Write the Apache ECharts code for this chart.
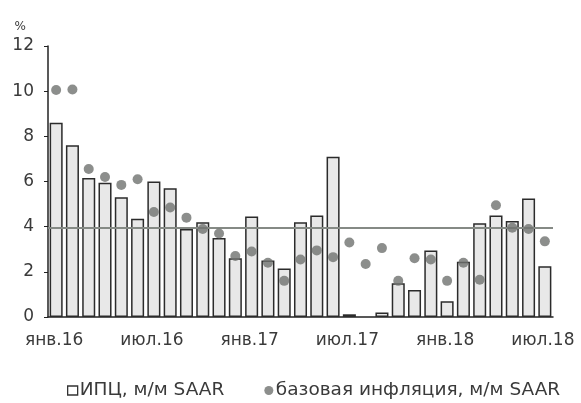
<!DOCTYPE html>
<html>
<head>
<meta charset="utf-8">
<script src="https://cdn.jsdelivr.net/npm/echarts@6/dist/echarts.min.js"></script>
<style>
  html, body { margin: 0; padding: 0; background: #fff; }
  #chart { width: 581px; height: 403px; }
</style>
</head>
<body>
<div id="chart"></div>
<script>
// months Jan 2016 .. Jul 2018
const months = [
  'янв.16','фев.16','мар.16','апр.16','май.16','июн.16','июл.16','авг.16','сен.16','окт.16','ноя.16','дек.16',
  'янв.17','фев.17','мар.17','апр.17','май.17','июн.17','июл.17','авг.17','сен.17','окт.17','ноя.17','дек.17',
  'янв.18','фев.18','мар.18','апр.18','май.18','июн.18','июл.18'
]
// ИПЦ, м/м SAAR
const cpi = [
  8.6, 7.6, 6.15, 5.95, 5.3, 4.35, 6.0, 5.7, 3.9, 4.2, 3.5, 2.6,
  4.45, 2.5, 2.15, 4.2, 4.5, 7.1, 0.12, -0.05, 0.2, 1.5, 1.2, 2.95,
  0.7, 2.45, 4.15, 4.5, 4.25, 5.25, 2.25
]
// базовая инфляция, м/м SAAR
const core = [
  10.05, 10.07, 6.55, 6.2, 5.85, 6.1, 4.65, 4.85, 4.4, 3.9, 3.7, 2.7,
  2.9, 2.4, 1.6, 2.55, 2.95, 2.65, 3.3, 2.35, 3.05, 1.6, 2.6, 2.55,
  1.6, 2.4, 1.65, 4.95, 3.95, 3.9, 3.35
]
const target = 3.95
const yTicks = { min: 0, max: 12, interval: 2 }

const textColor = '#3a3a3a'
const font = 'DejaVu Sans'

const chart = echarts.init(document.getElementById('chart'))
chart.setOption({
  animation: false,
  grid: { left: 48, right: 28, top: 46, bottom: 86 },
  legend: {
    top: 376,
    left: 62,
    itemGap: 40,
    textStyle: { fontFamily: font, fontSize: 18.5, color: textColor, padding: [0, 0, 0, -3] },
    data: [
      { name: 'ИПЦ, м/м SAAR', icon: 'rect', itemStyle: { color: '#fff', borderColor: '#333', borderWidth: 1.3 } },
      { name: 'базовая инфляция, м/м SAAR', icon: 'circle' }
    ],
    itemWidth: 10,
    itemHeight: 9
  },
  xAxis: {
    type: 'category',
    data: months,
    boundaryGap: true,
    axisLine: { lineStyle: { color: '#222', width: 1.5 } },
    axisTick: { interval: 5, length: 5, lineStyle: { color: '#222', width: 1.2 } },
    axisLabel: {
      interval: 5,
      fontFamily: font,
      fontSize: 17,
      color: textColor,
      margin: 15,
      padding: [0, 4, 0, 0]
    }
  },
  yAxis: {
    type: 'value',
    min: yTicks.min,
    max: yTicks.max,
    interval: yTicks.interval,
    name: '%',
    nameLocation: 'end',
    nameGap: 13,
    nameTextStyle: { fontFamily: font, fontSize: 12, color: textColor, align: 'right', padding: [0, 22, 0, 0] },
    axisLine: { show: true, lineStyle: { color: '#222', width: 1.5 } },
    axisTick: { show: true, length: 4, lineStyle: { color: '#222' } },
    axisLabel: { fontFamily: font, fontSize: 17, color: textColor, margin: 14 },
    splitLine: { show: false }
  },
  series: [
    {
      name: 'ИПЦ, м/м SAAR',
      type: 'bar',
      data: cpi,
      barCategoryGap: '20%',
      itemStyle: { color: '#e8e8e8', borderColor: '#2b2b2b', borderWidth: 1.5 },
      markLine: {
        silent: true,
        symbol: 'none',
        label: { show: false },
        lineStyle: { color: '#858a85', width: 2, type: 'solid' },
        data: [{ yAxis: target }],
        z: 5
      }
    },
    {
      name: 'базовая инфляция, м/м SAAR',
      type: 'scatter',
      data: core,
      symbolSize: 10,
      itemStyle: { color: '#6f726f' },
      z: 6
    }
  ]
})
</script>
</body>
</html>
